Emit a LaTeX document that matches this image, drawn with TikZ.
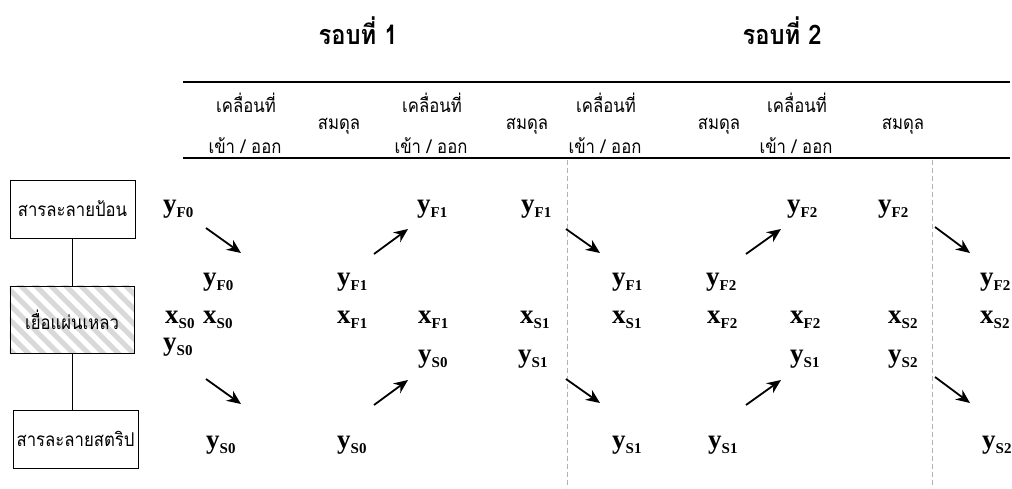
\documentclass[tikz,border=0pt]{standalone}
\usepackage{fontspec}
\setmainfont{Liberation Serif}
\newfontfamily\thai[Script=Thai,FakeStretch=0.88]{Loma}
\usetikzlibrary{arrows.meta,backgrounds}
\newcommand\lv[2]{{\fontsize{27}{27}\selectfont\bfseries #1}\raisebox{-5pt}{\fontsize{15}{15}\selectfont\bfseries #2}}
\begin{document}
\begin{tikzpicture}[x=1pt,y=-1pt,
  lab/.style={inner sep=0pt, anchor=base west},
  hd/.style={font=\thai\fontsize{19}{19}\selectfont, inner sep=0pt, anchor=base},
  ttl/.style={font=\thai\bfseries\fontsize{27}{27}\selectfont, inner sep=0pt, anchor=base},
  box/.style={draw, line width=1pt, minimum width=125pt, minimum height=58pt, inner sep=0pt, font=\thai\fontsize{19}{19}\selectfont},
  rule/.style={line width=2pt},
  link/.style={line width=1pt},
  sep/.style={gray!60, line width=1pt, dash pattern=on 5pt off 3pt},
  arr/.style={line width=1.8pt, -{Stealth[length=14pt,width=12pt]}}]
\useasboundingbox (0,0) rectangle (1012,488);
% titles
\node[ttl] (t1) at (358,44) {รอบที่ 1};
\node[ttl] (t2) at (782,44) {รอบที่ 2};
% rules
\coordinate (r1a) at (183,82); \coordinate (r1b) at (1010,82);
\coordinate (r2a) at (183,158); \coordinate (r2b) at (1010,158);
\draw[rule] (r1a) -- (r1b);
\draw[rule] (r2a) -- (r2b);
% headers
\node[hd] (h1a) at (246,112) {เคลื่อนที่}; \node[hd] (h1b) at (245,153) {เข้า / ออก};
\node[hd] (h2) at (339,129) {สมดุล};
\node[hd] (h3a) at (432,112) {เคลื่อนที่}; \node[hd] (h3b) at (431,153) {เข้า / ออก};
\node[hd] (h4) at (527,129) {สมดุล};
\node[hd] (h5a) at (606,112) {เคลื่อนที่}; \node[hd] (h5b) at (605,153) {เข้า / ออก};
\node[hd] (h6) at (719,129) {สมดุล};
\node[hd] (h7a) at (797,112) {เคลื่อนที่}; \node[hd] (h7b) at (796,153) {เข้า / ออก};
\node[hd] (h8) at (903,129) {สมดุล};
% dashed separators
\coordinate (d1a) at (567,160); \coordinate (d1b) at (567,488);
\coordinate (d2a) at (932,160); \coordinate (d2b) at (932,488);
\draw[sep] (d1a) -- (d1b);
\draw[sep] (d2a) -- (d2b);
% boxes
\node[box] (b1) at (72.5,209) {สารละลายป้อน};
\node[box, minimum width=124pt, minimum height=67pt] (b2) at (72,319.5) {เยื่อแผ่นเหลว};
\node[box] (b3) at (75.5,439) {สารละลายสตริป};
\begin{scope}[on background layer]
  \clip (b2.south west) rectangle (b2.north east);
  \foreach \i in {-100,-85,...,160} \draw[gray!30, line width=5pt] (\i,270) -- ++(100,100);
\end{scope}
\draw[link] (b1.south) -- (b1.south |- b2.north);
\draw[link] (b2.south) -- (b2.south |- b3.north);
% row 1
\node[lab] (a1) at (163,212) {\lv{y}{F0}};
\node[lab] (a4) at (417,212) {\lv{y}{F1}};
\node[lab] (a5) at (521,212) {\lv{y}{F1}};
\node[lab] (a8) at (787,212) {\lv{y}{F2}};
\node[lab] (a9) at (878,212) {\lv{y}{F2}};
% row 2
\node[lab] (b2n) at (203,285) {\lv{y}{F0}};
\node[lab] (b3n) at (337,285) {\lv{y}{F1}};
\node[lab] (b6n) at (612,285) {\lv{y}{F1}};
\node[lab] (b7n) at (706,285) {\lv{y}{F2}};
\node[lab] (b10n) at (980,285) {\lv{y}{F2}};
% row 3
\node[lab] (c1) at (165,323) {\lv{x}{S0}};
\node[lab] (c2) at (203,323) {\lv{x}{S0}};
\node[lab] (c3) at (337,323) {\lv{x}{F1}};
\node[lab] (c4) at (418,323) {\lv{x}{F1}};
\node[lab] (c5) at (520,323) {\lv{x}{S1}};
\node[lab] (c6) at (612,323) {\lv{x}{S1}};
\node[lab] (c7) at (707,323) {\lv{x}{F2}};
\node[lab] (c8) at (790,323) {\lv{x}{F2}};
\node[lab] (c9) at (888,323) {\lv{x}{S2}};
\node[lab] (c10) at (980,323) {\lv{x}{S2}};
% row 4
\node[lab] (d1) at (163,350) {\lv{y}{S0}};
\node[lab] (d4) at (418,362) {\lv{y}{S0}};
\node[lab] (d5) at (518,362) {\lv{y}{S1}};
\node[lab] (d8) at (790,362) {\lv{y}{S1}};
\node[lab] (d9) at (888,362) {\lv{y}{S2}};
% row 5
\node[lab] (e2) at (206,448) {\lv{y}{S0}};
\node[lab] (e3) at (337,448) {\lv{y}{S0}};
\node[lab] (e6) at (612,448) {\lv{y}{S1}};
\node[lab] (e7) at (708,448) {\lv{y}{S1}};
\node[lab] (e10) at (982,448) {\lv{y}{S2}};
% arrows
\coordinate (p1) at (206,228); \coordinate (q1) at (241,253);
\coordinate (p2) at (206,379); \coordinate (q2) at (241,404);
\coordinate (p3) at (374,254); \coordinate (q3) at (408,229);
\coordinate (p4) at (374,405); \coordinate (q4) at (408,380);
\coordinate (p5) at (566,229); \coordinate (q5) at (600,253);
\coordinate (p6) at (566,379); \coordinate (q6) at (600,403);
\coordinate (p7) at (746,254); \coordinate (q7) at (781,229);
\coordinate (p8) at (746,405); \coordinate (q8) at (781,380);
\coordinate (p9) at (935,227); \coordinate (q9) at (970,253);
\coordinate (p10) at (935,377); \coordinate (q10) at (970,403);
\foreach \k in {1,...,10} \draw[arr] (p\k) -- (q\k);
\end{tikzpicture}
\end{document}
